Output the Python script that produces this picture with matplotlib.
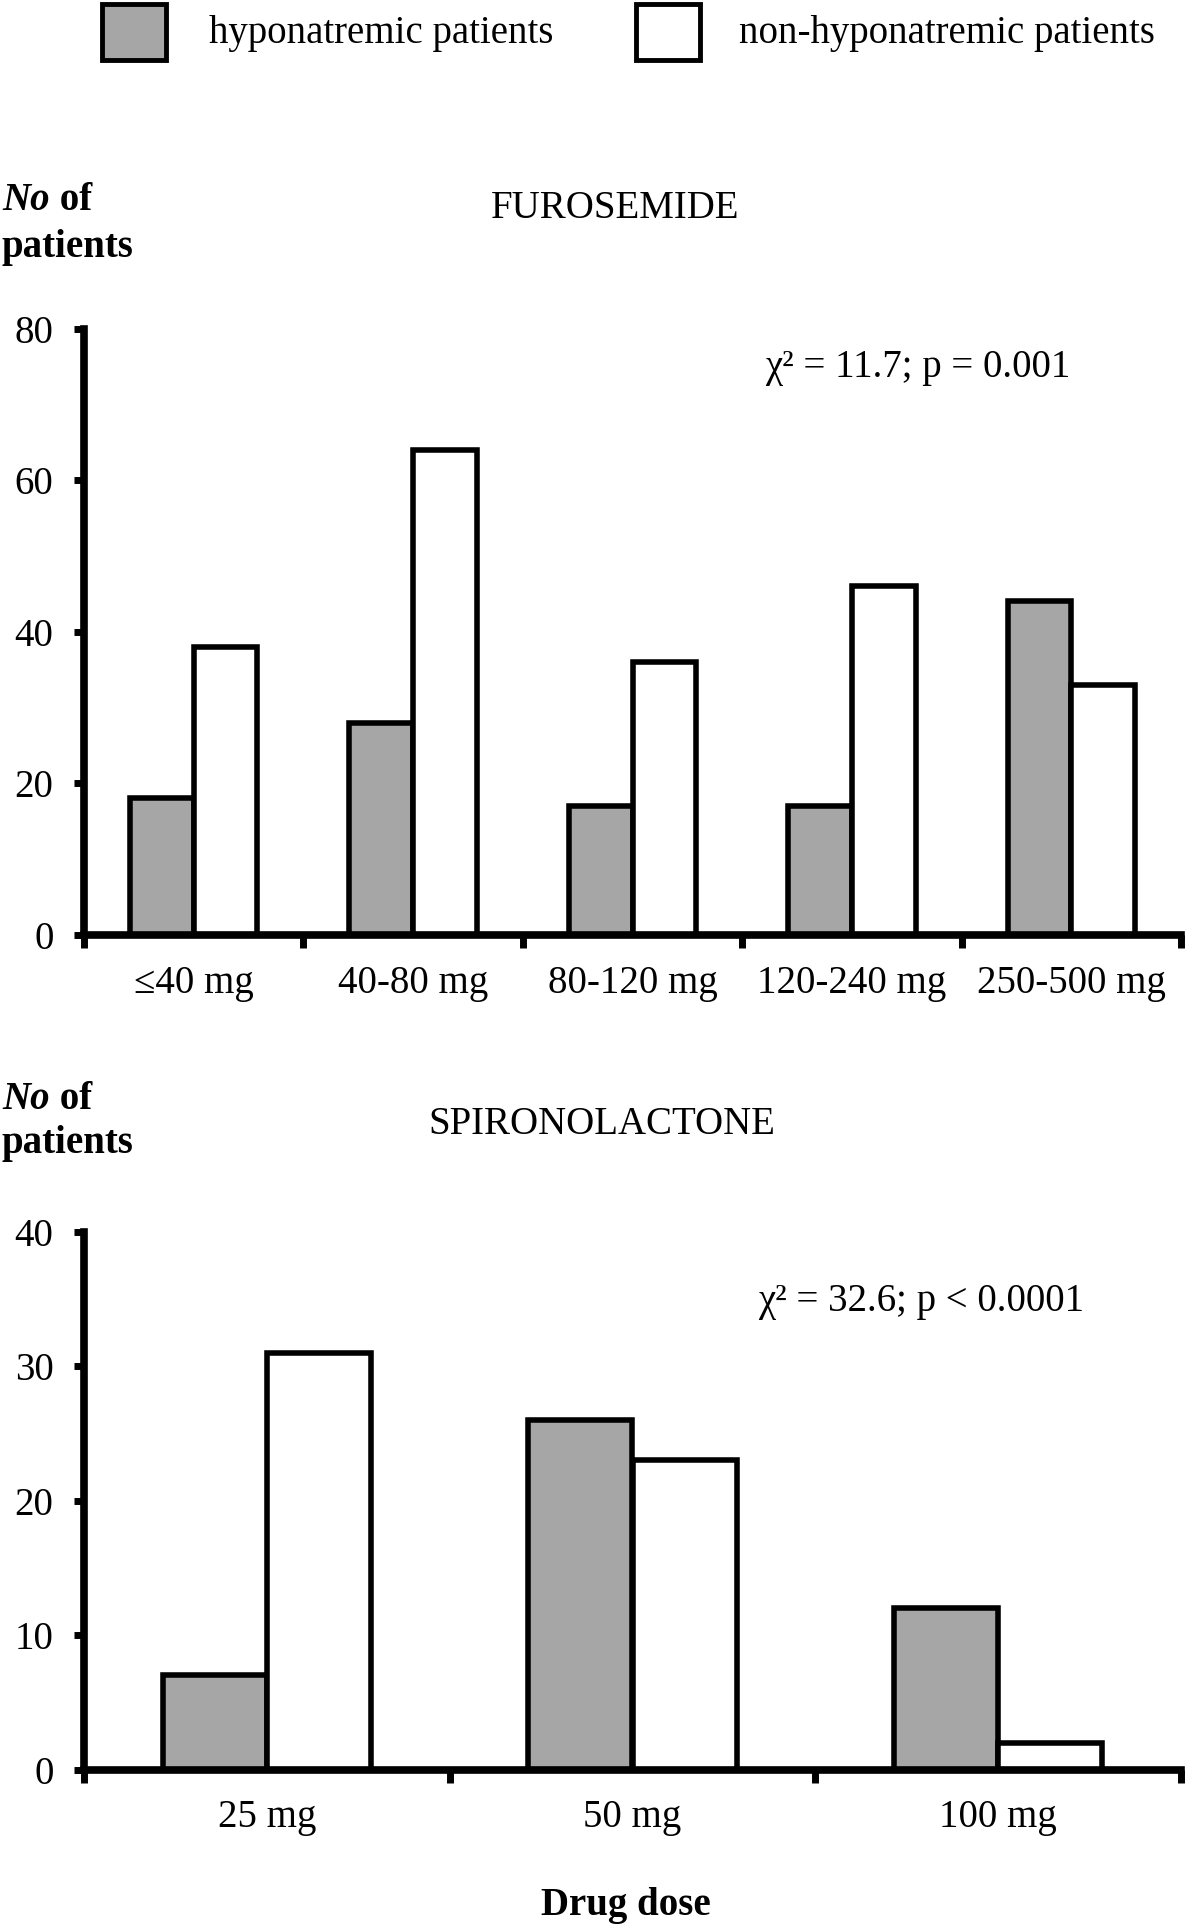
import numpy as np
import matplotlib
matplotlib.use('Agg')
import matplotlib.pyplot as plt
from matplotlib.patches import Rectangle

plt.rcParams['font.family'] = ['Liberation Serif', 'DejaVu Serif']

# data
furo_labels = ['≤40 mg', '40-80 mg', '80-120 mg', '120-240 mg', '250-500 mg']
furo_hypo = [18, 28, 17, 17, 44]
furo_non = [38, 64, 36, 46, 33]

spiro_labels = ['25 mg', '50 mg', '100 mg']
spiro_hypo = [7, 26, 12]
spiro_non = [31, 23, 2]

W, H = 1185, 1926
FS = 28
grey = '#a6a6a6'

fig = plt.figure(figsize=(W / 100, H / 100), dpi=100)


def fx(x):
    return x / W


def fy(y):
    return 1 - y / H


def draw(ax, labels, hypo, non, ymax, step, w, pad):
    n = len(labels)
    x = np.arange(n) + 0.5
    ax.bar(x - w / 2, hypo, w, color=grey, edgecolor='black', linewidth=4, zorder=2)
    ax.bar(x + w / 2, non, w, color='white', edgecolor='black', linewidth=4, zorder=2)
    ax.set_xlim(0, n)
    ax.set_ylim(0, ymax)
    ax.set_xticks(np.arange(n + 1))
    ax.set_xticklabels([])
    ax.set_xticks(x, minor=True)
    ax.set_xticklabels(labels, minor=True)
    ax.tick_params(axis='x', which='minor', length=0, pad=pad, labelsize=FS)
    ax.tick_params(axis='x', which='major', length=9, width=5)
    ax.set_yticks(np.arange(0, ymax + 1, step))
    ax.tick_params(axis='y', length=7, width=5, pad=15, labelsize=FS)
    for s in ['top', 'right']:
        ax.spines[s].set_visible(False)
    for s in ['left', 'bottom']:
        ax.spines[s].set_linewidth(5.5)
        ax.spines[s].set_zorder(3)


ax1 = fig.add_axes([fx(84), fy(934.5), (1181 - 84) / W, (934.5 - 329) / H])
draw(ax1, furo_labels, furo_hypo, furo_non, 80, 20, 0.29, 22)

ax2 = fig.add_axes([fx(84), fy(1769.5), (1181 - 84) / W, (1769.5 - 1231.7) / H])
draw(ax2, spiro_labels, spiro_hypo, spiro_non, 40, 10, 0.285, 21)

# legend boxes
fig.add_artist(Rectangle((fx(102), fy(60)), 64 / W, 56 / H, transform=fig.transFigure,
                         facecolor=grey, edgecolor='black', linewidth=3.5))
fig.add_artist(Rectangle((fx(636), fy(60)), 64 / W, 56 / H, transform=fig.transFigure,
                         facecolor='white', edgecolor='black', linewidth=3.5))
fig.text(fx(209), fy(34), 'hyponatremic patients', fontsize=FS, va='center')
fig.text(fx(739), fy(34), 'non-hyponatremic patients', fontsize=FS, va='center')


def ylabel(y1, y2):
    t = fig.text(fx(2), fy(y1), 'No', fontsize=FS, fontweight='bold', fontstyle='italic',
                 va='center', ha='left')
    fig.text(fx(2), fy(y2), 'patients', fontsize=FS, fontweight='bold', va='center', ha='left')
    ax1.annotate(' of', xy=(1, 0), xycoords=t, fontsize=FS, fontweight='bold',
                 va='bottom', ha='left', annotation_clip=False)


ylabel(201, 247)
fig.text(fx(615), fy(209), 'FUROSEMIDE', fontsize=FS, ha='center', va='center')
fig.text(fx(765), fy(368), 'χ² = 11.7; p = 0.001', fontsize=FS, va='center')

ylabel(1099, 1143)
fig.text(fx(602), fy(1124), 'SPIRONOLACTONE', fontsize=FS, ha='center', va='center')
fig.text(fx(758), fy(1302), 'χ² = 32.6; p < 0.0001', fontsize=FS, va='center')

fig.text(fx(626), fy(1905), 'Drug dose', fontsize=FS, fontweight='bold', ha='center', va='center')

fig.savefig('out.png', dpi=100)
